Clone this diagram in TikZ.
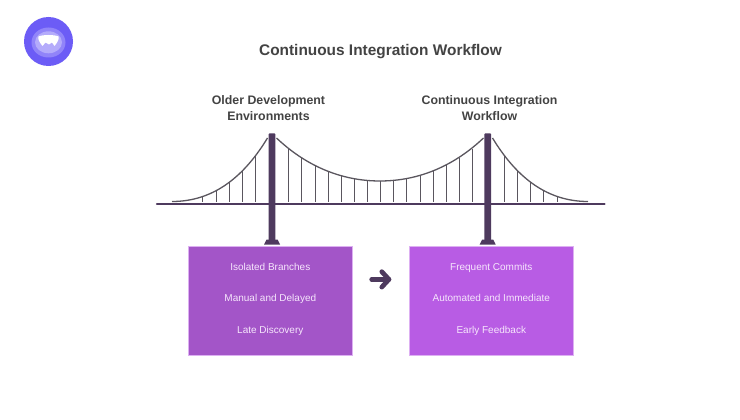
\documentclass[tikz,border=0pt]{standalone}
\usepackage{fontspec}
\setmainfont{Liberation Sans}
\usetikzlibrary{arrows,positioning}
\definecolor{towerc}{HTML}{4E3A5E}
\definecolor{cablec}{HTML}{5A565E}
\definecolor{headc}{HTML}{434343}
\definecolor{oldc}{HTML}{A355C8}
\definecolor{newc}{HTML}{B85CE4}
\definecolor{edgec}{HTML}{DDB0F2}
\definecolor{linec}{HTML}{F6E6FC}
\definecolor{logoa}{HTML}{6C5CF6}
\definecolor{logob}{HTML}{9184F9}
\definecolor{logoc}{HTML}{B4ABFB}
\tikzset{ >=stealth',
  titel/.style={ font=\bfseries\fontsize{15.4}{19}\selectfont, text=headc, inner sep=0pt},
  kopf/.style={ font=\bfseries\fontsize{12.35}{16}\selectfont, text=headc, align=center, inner sep=0pt},
  kasten/.style={ rectangle, draw=edgec, line width=0.7pt, minimum width=164.3pt, minimum height=109pt, inner sep=0pt},
  zeile/.style={ font=\fontsize{10}{12}\selectfont, text=linec, inner sep=0pt, text height=7.5pt, text depth=2pt},
  reihe/.style={ below=31.5pt of #1, anchor=center},
  turm/.style={ fill=towerc, draw=none},
  kabel/.style={ draw=cablec, line width=1.3pt},
  seil/.style={ draw=cablec, line width=1.5pt},
  pil/.style={ draw=towerc, line width=4.7pt, line cap=round, line join=round}}

\begin{document}
\begin{tikzpicture}[x=1pt,y=-1pt]
    \useasboundingbox (0,0) rectangle (740,420);
    \fill[white] (0,0) rectangle (740,420);
    % logo
    \fill[logoa] (48.5,41.5) circle (24.5);
    \fill[logob] (48.5,42.5) ellipse (17 and 15);
    \fill[logoc] (48.5,42.3) ellipse (13.5 and 11);
    \fill[white] (38.5,36.5) .. controls (43,34.5) and (54,34.5) .. (58.5,36.5) .. controls (59.5,39) and (57,43) .. (54.5,46) -- (52,42.5) -- (49,44.5) -- (45.5,42.5) -- (42.5,46) .. controls (40,43) and (37.5,39) .. (38.5,36.5) -- cycle;
    %nodes
    \node[titel] (titel) at (380.5,52) {Continuous Integration Workflow};
    \node[kopf] (older) at (268.5,108) {Older Development\\[0pt]Environments};
    \node[kopf] (ci) at (489.5,108) {Continuous Integration\\[0pt]Workflow};
    \node[kasten, fill=oldc] (oldbox) at (270.3,300.5) {};
    \node[kasten, fill=newc] (newbox) at (491.3,300.5) {};
    \node[zeile, below=22pt of oldbox.north, anchor=center] (isolated) {Isolated Branches};
    \node[zeile, reihe=isolated.center] (manual) {Manual and Delayed};
    \node[zeile, reihe=manual.center] (late) {Late Discovery};
    \node[zeile, below=22pt of newbox.north, anchor=center] (frequent) {Frequent Commits};
    \node[zeile, reihe=frequent.center] (automated) {Automated and Immediate};
    \node[zeile, reihe=automated.center] (early) {Early Feedback};
    % the bridge
    \draw[kabel] (172,201.5) .. controls (215,201.5) and (245,175) .. (267.5,138);
    \draw[kabel] (276.5,138) .. controls (305,165) and (340,181) .. (380,181)
       .. controls (420,181) and (455,165) .. (483.5,138);
    \draw[kabel] (492.5,138) .. controls (515,175) and (545,201.5) .. (588,201.5);
    \foreach \x/\y in {202.5/196.5,216.5/190.7,229.5/181.7,242.5/170,255.5/156,
       288.5/149,301.5/158,315.5/165,328.5/170.5,341.5/175,354.5/178,367.5/180,380.5/181,
       393.5/180,406.5/178,420.5/175,433.5/170.5,446.5/165,459.5/158,472.5/149,
       504.5/156,517.5/170,530.5/181.7,543.5/190.7,557.5/196.5}
       \draw[seil] (\x,\y) -- (\x,202);
    \draw[towerc, line width=2.3pt, line cap=round] (157,204.3) -- (604.5,204.3);
    \foreach \t in {272,487.7}{
       \fill[turm, rounded corners=0.6pt] (\t-3.3,133.5) rectangle (\t+3.3,241);
       \fill[turm] (\t-5.5,239.5) -- (\t+5.5,239.5) -- (\t+8,244.5) -- (\t-8,244.5) -- cycle;
    }
    % arrow between the boxes
    \coordinate (pilstart) at (371.7,279.4);
    \coordinate (pilend) at (388.9,279.4);
    \draw[pil] (pilstart) -- (pilend);
    \draw[pil] (381.8,271.7) -- (pilend) -- (381.8,287.1);
\end{tikzpicture}
\end{document}
